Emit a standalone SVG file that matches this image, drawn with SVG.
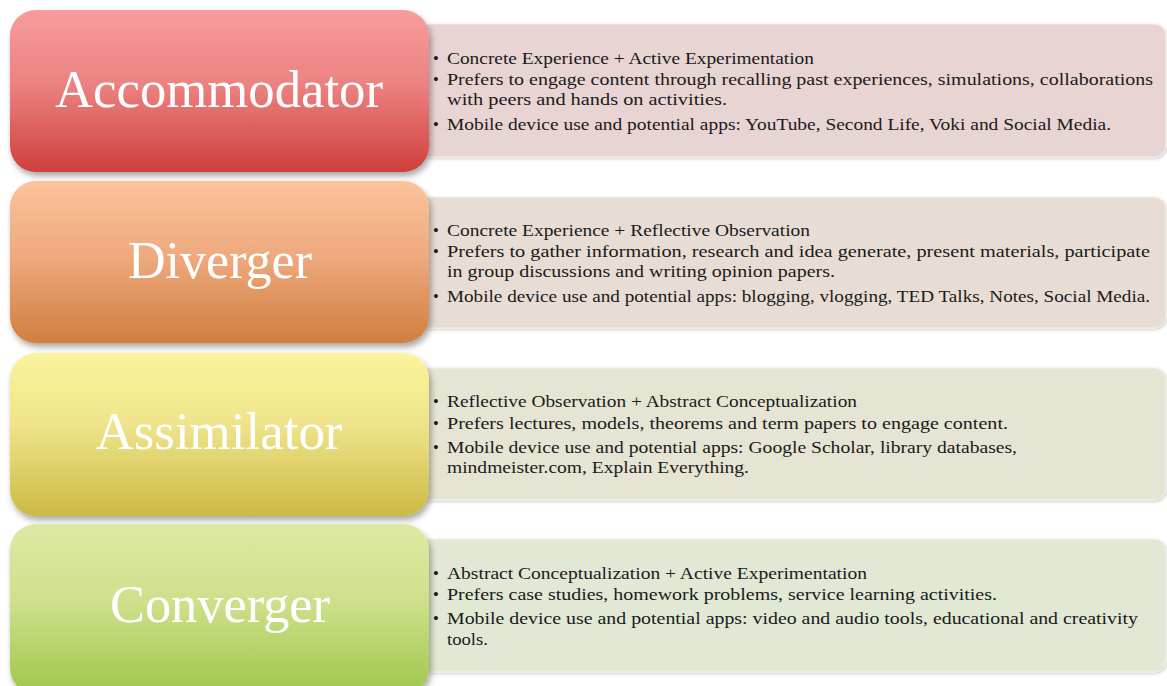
<svg xmlns="http://www.w3.org/2000/svg" width="1167" height="686" viewBox="0 0 1167 686">
<defs>
<linearGradient id="gA" x1="0" y1="0" x2="0" y2="1"><stop offset="0" stop-color="#F69C9B"/><stop offset="0.45" stop-color="#EC8382"/><stop offset="1" stop-color="#CF3F3B"/></linearGradient>
<linearGradient id="gD" x1="0" y1="0" x2="0" y2="1"><stop offset="0" stop-color="#FBC39C"/><stop offset="0.45" stop-color="#EFAA7F"/><stop offset="1" stop-color="#D07F3E"/></linearGradient>
<linearGradient id="gS" x1="0" y1="0" x2="0" y2="1"><stop offset="0" stop-color="#FBF49D"/><stop offset="0.45" stop-color="#EEE38A"/><stop offset="1" stop-color="#CCBA43"/></linearGradient>
<linearGradient id="gC" x1="0" y1="0" x2="0" y2="1"><stop offset="0" stop-color="#DEEAA3"/><stop offset="0.45" stop-color="#CEE08C"/><stop offset="1" stop-color="#9FC74B"/></linearGradient>
<filter id="sh" x="-5%" y="-10%" width="112%" height="125%"><feDropShadow dx="2" dy="4" stdDeviation="3" flood-color="#000" flood-opacity="0.35"/></filter>
<filter id="psh" x="-5%" y="-10%" width="110%" height="125%"><feDropShadow dx="1" dy="1.5" stdDeviation="1.5" flood-color="#000" flood-opacity="0.18"/></filter>
</defs>
<style>
.title{font-family:"Liberation Serif","DejaVu Serif",serif;font-size:52px;fill:#ffffff;text-anchor:middle}
.body{font-family:"Liberation Serif","DejaVu Serif",serif;font-size:16.5px;fill:#1a1a1a}
.panel{stroke:#f4efe9;stroke-width:1}
</style>
<rect width="1167" height="686" fill="#ffffff"/>
<g id="accommodator">
<rect class="panel" x="418" y="24" width="748" height="133" rx="12" fill="#E9D4D4" filter="url(#psh)"/>
<rect x="10" y="10" width="419" height="162" rx="26" fill="url(#gA)" filter="url(#sh)"/>
<text class="title" x="219" y="107" textLength="328" lengthAdjust="spacingAndGlyphs">Accommodator</text>
<text class="body" x="433" y="64">•</text>
<text class="body" x="447" y="64" textLength="367" lengthAdjust="spacingAndGlyphs">Concrete Experience  + Active Experimentation</text>
<text class="body" x="433" y="85">•</text>
<text class="body" x="447" y="85" textLength="706" lengthAdjust="spacingAndGlyphs">Prefers to engage  content through recalling past experiences,  simulations, collaborations</text>
<text class="body" x="447" y="105" textLength="280" lengthAdjust="spacingAndGlyphs">with peers and hands   on activities.</text>
<text class="body" x="433" y="130">•</text>
<text class="body" x="447" y="130" textLength="664" lengthAdjust="spacingAndGlyphs">Mobile device use and potential apps:  YouTube,  Second Life, Voki and Social Media.</text>
</g>
<g id="diverger">
<rect class="panel" x="418" y="197" width="748" height="131" rx="12" fill="#E8DDD4" filter="url(#psh)"/>
<rect x="10" y="181" width="419" height="162" rx="26" fill="url(#gD)" filter="url(#sh)"/>
<text class="title" x="220" y="278" textLength="184" lengthAdjust="spacingAndGlyphs">Diverger</text>
<text class="body" x="433" y="236">•</text>
<text class="body" x="447" y="236" textLength="363" lengthAdjust="spacingAndGlyphs">Concrete Experience  + Reflective  Observation</text>
<text class="body" x="433" y="257">•</text>
<text class="body" x="447" y="257" textLength="703" lengthAdjust="spacingAndGlyphs">Prefers to gather  information, research and idea generate,  present  materials,  participate</text>
<text class="body" x="447" y="277" textLength="388" lengthAdjust="spacingAndGlyphs">in group discussions and  writing opinion papers.</text>
<text class="body" x="433" y="302">•</text>
<text class="body" x="447" y="302" textLength="703" lengthAdjust="spacingAndGlyphs">Mobile device use and potential apps: blogging,  vlogging, TED Talks,  Notes, Social Media.</text>
</g>
<g id="assimilator">
<rect class="panel" x="418" y="368" width="748" height="132" rx="12" fill="#E6E5D4" filter="url(#psh)"/>
<rect x="10" y="353" width="419" height="163" rx="26" fill="url(#gS)" filter="url(#sh)"/>
<text class="title" x="219" y="449" textLength="247" lengthAdjust="spacingAndGlyphs">Assimilator</text>
<text class="body" x="433" y="407">•</text>
<text class="body" x="447" y="407" textLength="410" lengthAdjust="spacingAndGlyphs">Reflective Observation  +  Abstract Conceptualization</text>
<text class="body" x="433" y="429">•</text>
<text class="body" x="447" y="429" textLength="561" lengthAdjust="spacingAndGlyphs">Prefers lectures,  models, theorems and term papers  to engage  content.</text>
<text class="body" x="433" y="453">•</text>
<text class="body" x="447" y="453" textLength="570" lengthAdjust="spacingAndGlyphs">Mobile device use and potential apps: Google  Scholar, library databases,</text>
<text class="body" x="447" y="473" textLength="302" lengthAdjust="spacingAndGlyphs">mindmeister.com, Explain Everything.</text>
</g>
<g id="converger">
<rect class="panel" x="418" y="539" width="748" height="133" rx="12" fill="#E1E8D4" filter="url(#psh)"/>
<rect x="10" y="524" width="419" height="170" rx="26" fill="url(#gC)" filter="url(#sh)"/>
<text class="title" x="220" y="622" textLength="220" lengthAdjust="spacingAndGlyphs">Converger</text>
<text class="body" x="433" y="579">•</text>
<text class="body" x="447" y="579" textLength="420" lengthAdjust="spacingAndGlyphs">Abstract Conceptualization   + Active Experimentation</text>
<text class="body" x="433" y="600">•</text>
<text class="body" x="447" y="600" textLength="550" lengthAdjust="spacingAndGlyphs">Prefers case studies,  homework problems,  service learning  activities.</text>
<text class="body" x="433" y="624">•</text>
<text class="body" x="447" y="624" textLength="691" lengthAdjust="spacingAndGlyphs">Mobile device use and potential apps: video and audio tools, educational  and creativity</text>
<text class="body" x="447" y="645" textLength="41" lengthAdjust="spacingAndGlyphs">tools.</text>
</g>
<g id="connectors"/>
</svg>
